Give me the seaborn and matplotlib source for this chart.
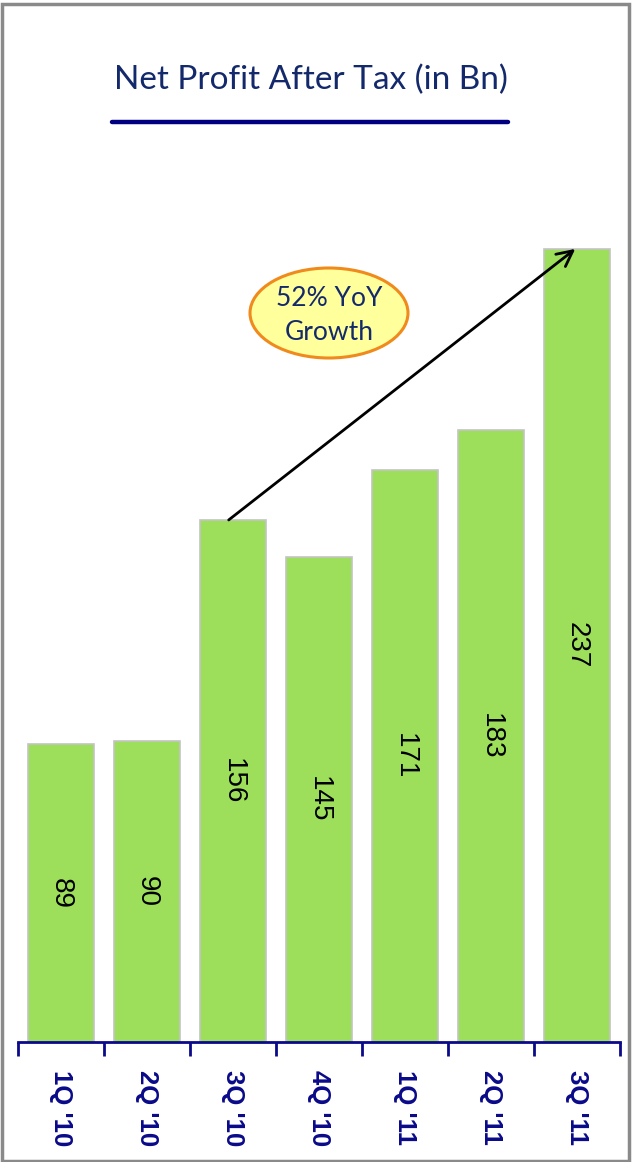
import matplotlib
matplotlib.use("Agg")
import matplotlib.pyplot as plt
from matplotlib.patches import Ellipse, Rectangle
from matplotlib.lines import Line2D
import seaborn as sns
import pandas as pd

# Quarterly net profit after tax (in Bn)
quarters = ["1Q '10", "2Q '10", "3Q '10", "4Q '10", "1Q '11", "2Q '11", "3Q '11"]
profit = [89, 90, 156, 145, 171, 183, 237]
title = "Net Profit After Tax (in Bn)"
callout = "52% YoY\nGrowth"

sns.set_style("white")
plt.rcParams["font.family"] = ["Liberation Sans", "DejaVu Sans"]

NAVY = "#0a0a8a"
TITLE_NAVY = "#13296b"
BAR_GREEN = "#9ddf5a"

W, H = 632, 1162
fig = plt.figure(figsize=(W / 100, H / 100), dpi=100)
fig.patch.set_facecolor("white")

ax = fig.add_axes([18 / W, (H - 1042) / H, 602 / W, 937 / H])

df = pd.DataFrame({"quarter": quarters, "profit": profit})
sns.barplot(data=df, x="quarter", y="profit", color=BAR_GREEN, saturation=1,
            edgecolor="#c4c4c4", linewidth=1.2, width=0.77, ax=ax)

ax.set_xlim(-0.5, len(quarters) - 0.5)
ax.set_ylim(0, 280)
ax.set_xlabel("")
ax.set_ylabel("")
ax.set_yticks([])

# value labels centred inside each bar
for i, v in enumerate(profit):
    ax.text(i, v / 2, str(v), rotation=270, ha="center", va="center",
            fontsize=20, color="black")

# category axis: boundary tick marks and rotated bold labels
for s in ["top", "right", "left"]:
    ax.spines[s].set_visible(False)
ax.spines["bottom"].set_color(NAVY)
ax.spines["bottom"].set_linewidth(2)
ax.set_xticks(range(len(quarters)))
ax.set_xticklabels(quarters, rotation=270, fontsize=18.5, fontweight="bold", color=NAVY)
ax.set_xticks([i - 0.5 for i in range(len(quarters) + 1)], minor=True)
ax.tick_params(axis="x", which="major", bottom=False, length=0, pad=20)
ax.tick_params(axis="x", which="minor", bottom=True, length=10, width=2,
               color=NAVY, direction="out")

# growth arrow from 3Q '10 to 3Q '11
ax.annotate("", xy=(5.98, profit[6]), xytext=(1.95, profit[2]),
            arrowprops=dict(arrowstyle="->", lw=2, color="black",
                            mutation_scale=28, shrinkA=0, shrinkB=0))

# title with underline
fig.text(311 / W, 1 - 80 / H, title, ha="center", va="center",
         fontsize=24, color=TITLE_NAVY, family=["Lato", "DejaVu Sans"])
fig.add_artist(Line2D([112 / W, 508 / W], [1 - 122 / H, 1 - 122 / H],
                      color="#000080", lw=3.2, transform=fig.transFigure))

# callout bubble
fig.add_artist(Ellipse((329 / W, 1 - 313 / H), 158 / W, 90 / H,
                       transform=fig.transFigure, facecolor="#ffff9c",
                       edgecolor="#f08a1c", lw=2.2))
fig.text(329 / W, 1 - 315 / H, callout, ha="center", va="center",
         fontsize=19, color=TITLE_NAVY, linespacing=1.45,
         family=["Lato", "DejaVu Sans"])

# outer frame
fig.add_artist(Rectangle((1.5 / W, 1.5 / H), (W - 5) / W, (H - 5) / H,
                         transform=fig.transFigure, fill=False,
                         edgecolor="#8a8a8a", lw=2.5))

fig.savefig("out.png", dpi=100, facecolor="white")
